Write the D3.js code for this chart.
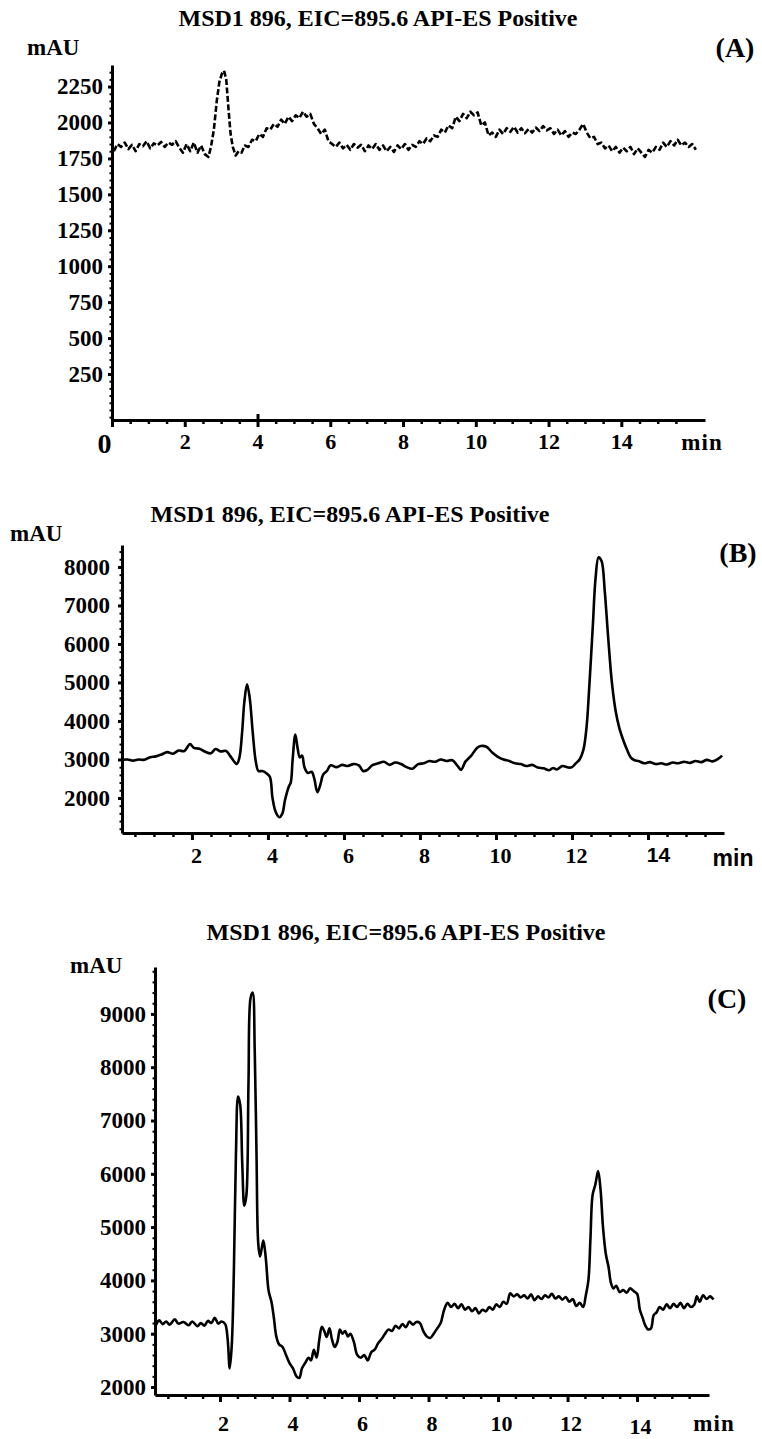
<!DOCTYPE html>
<html>
<head>
<meta charset="utf-8">
<script src="https://cdn.jsdelivr.net/npm/d3@7"></script>
<style>
body { margin: 0; background: #fff; }
svg { display: block; }
text { font-family: "Liberation Serif", "Times New Roman", serif; font-weight: bold; fill: #000; }
.sans { font-family: "Liberation Sans", Arial, sans-serif; }
</style>
</head>
<body>
<script>
const titleText = "MSD1 896, EIC=895.6 API-ES Positive";

const yTicksA = [250, 500, 750, 1000, 1250, 1500, 1750, 2000, 2250];
const yTicksB = [2000, 3000, 4000, 5000, 6000, 7000, 8000];
const yTicksC = [2000, 3000, 4000, 5000, 6000, 7000, 8000, 9000];
const xTicksA = [0, 2, 4, 6, 8, 10, 12, 14];
const xTicksBC = [2, 4, 6, 8, 10, 12, 14];

// [time (min), signal (mAU)]
const traceA = [
  [0.05,1800],[0.15,1850],[0.25,1830],[0.35,1860],[0.45,1815],[0.55,1845],[0.65,1800],[0.75,1850],
  [0.85,1835],[0.95,1870],[1.05,1820],[1.15,1855],[1.25,1840],[1.35,1865],[1.45,1830],[1.55,1860],
  [1.65,1845],[1.75,1870],[1.85,1825],[1.95,1790],[2.05,1850],[2.15,1800],[2.25,1860],[2.35,1790],
  [2.45,1840],[2.55,1780],[2.65,1760],[2.72,1830],[2.8,1950],[2.88,2150],[2.95,2280],[3.02,2340],
  [3.08,2360],[3.14,2300],[3.2,2100],[3.26,1920],[3.32,1830],[3.4,1770],[3.48,1800],[3.56,1790],
  [3.65,1840],[3.75,1830],[3.85,1880],[3.95,1870],[4.05,1920],[4.15,1900],[4.25,1960],[4.35,1950],
  [4.45,1990],[4.55,1970],[4.65,2020],[4.75,1990],[4.85,2040],[4.95,2010],[5.05,2050],[5.15,2030],
  [5.25,2075],[5.35,2040],[5.45,2060],[5.55,1990],[5.65,1960],[5.75,1920],[5.85,1950],[5.95,1870],
  [6.05,1850],[6.15,1830],[6.25,1860],[6.35,1820],[6.45,1845],[6.55,1810],[6.65,1850],[6.75,1825],
  [6.85,1845],[6.95,1800],[7.05,1840],[7.15,1815],[7.25,1850],[7.35,1810],[7.45,1840],[7.55,1800],
  [7.65,1830],[7.75,1795],[7.85,1840],[7.95,1815],[8.05,1850],[8.15,1810],[8.25,1845],[8.35,1830],
  [8.45,1870],[8.55,1850],[8.65,1890],[8.75,1870],[8.85,1910],[8.95,1900],[9.05,1950],[9.15,1930],
  [9.25,1980],[9.35,1960],[9.45,2040],[9.55,2010],[9.65,2060],[9.75,2030],[9.85,2075],[9.95,2050],
  [10.05,2070],[10.15,1980],[10.25,2000],[10.35,1910],[10.45,1930],[10.55,1900],[10.65,1950],[10.75,1920],
  [10.85,1960],[10.95,1935],[11.05,1970],[11.15,1930],[11.25,1960],[11.35,1925],[11.45,1955],[11.55,1930],
  [11.65,1965],[11.75,1940],[11.85,1975],[11.95,1945],[12.05,1960],[12.15,1920],[12.25,1950],[12.35,1910],
  [12.45,1940],[12.55,1900],[12.65,1930],[12.75,1920],[12.85,1950],[12.95,1990],[13.05,1930],[13.15,1890],
  [13.25,1900],[13.35,1850],[13.45,1860],[13.55,1820],[13.65,1840],[13.75,1800],[13.85,1830],[13.95,1790],
  [14.05,1825],[14.15,1800],[14.25,1830],[14.35,1780],[14.45,1820],[14.55,1790],[14.65,1760],[14.75,1810],
  [14.85,1790],[14.95,1830],[15.05,1810],[15.15,1860],[15.25,1830],[15.35,1870],[15.45,1840],[15.55,1880],
  [15.65,1840],[15.75,1860],[15.85,1830],[15.95,1850],[16.05,1810]
];

const traceB = [
  [0.15,2990],[0.3,3000],[0.45,2970],[0.6,3000],[0.75,2990],[0.9,3060],[1.05,3080],[1.2,3130],
  [1.35,3190],[1.5,3150],[1.65,3230],[1.8,3220],[1.95,3400],[2.05,3300],[2.2,3280],[2.35,3200],
  [2.5,3160],[2.62,3270],[2.75,3210],[2.9,3220],[3.0,3100],[3.1,2960],[3.18,2880],[3.25,3050],
  [3.32,3700],[3.38,4500],[3.45,4950],[3.52,4600],[3.6,3700],[3.68,2950],[3.75,2700],[3.85,2700],
  [3.95,2650],[4.05,2550],[4.12,2000],[4.2,1650],[4.3,1500],[4.38,1600],[4.45,1950],[4.55,2300],
  [4.6,2400],[4.65,3000],[4.72,3650],[4.78,3300],[4.84,3050],[4.9,3100],[4.96,2800],[5.05,2650],
  [5.15,2680],[5.22,2500],[5.3,2150],[5.38,2350],[5.45,2600],[5.55,2700],[5.65,2850],[5.8,2800],
  [5.95,2860],[6.1,2830],[6.25,2880],[6.4,2840],[6.5,2700],[6.6,2720],[6.75,2850],[6.9,2900],
  [7.05,2940],[7.2,2860],[7.35,2920],[7.5,2880],[7.65,2800],[7.8,2760],[7.95,2880],[8.1,2900],
  [8.25,2960],[8.4,2940],[8.55,3000],[8.7,2960],[8.85,2980],[9.0,2820],[9.08,2730],[9.2,2950],
  [9.35,3100],[9.5,3300],[9.6,3350],[9.75,3330],[9.9,3180],[10.05,3070],[10.2,3000],[10.35,2960],
  [10.5,2900],[10.65,2880],[10.8,2830],[10.95,2860],[11.1,2790],[11.25,2770],[11.4,2720],[11.5,2780],
  [11.6,2740],[11.75,2830],[11.9,2790],[12.0,2800],[12.1,2900],[12.2,3000],[12.3,3250],[12.38,3800],
  [12.45,4800],[12.55,6500],[12.62,7700],[12.7,8250],[12.78,8150],[12.86,7400],[12.95,6200],[13.05,5000],
  [13.15,4250],[13.25,3800],[13.35,3500],[13.45,3250],[13.55,3050],[13.65,2980],[13.75,2960],[13.9,2900],
  [14.05,2930],[14.2,2880],[14.35,2900],[14.5,2870],[14.65,2920],[14.8,2900],[14.95,2940],[15.1,2910],
  [15.25,2960],[15.4,2930],[15.55,2990],[15.7,2950],[15.85,3020],[15.95,3100]
];

const traceC = [
  [0.15,3150],[0.25,3250],[0.35,3180],[0.45,3230],[0.55,3170],[0.7,3270],[0.8,3190],[0.95,3220],
  [1.1,3160],[1.2,3230],[1.35,3140],[1.45,3200],[1.55,3150],[1.65,3240],[1.75,3200],[1.85,3300],
  [1.95,3190],[2.05,3230],[2.15,3180],[2.22,2900],[2.28,2350],[2.34,2800],[2.4,4200],[2.46,6400],
  [2.52,7450],[2.58,7300],[2.64,6200],[2.7,5400],[2.76,5600],[2.82,7700],[2.88,9300],[2.94,9400],
  [3.0,8300],[3.05,6400],[3.1,4700],[3.15,4450],[3.2,4600],[3.25,4750],[3.32,4400],[3.4,3800],
  [3.48,3600],[3.55,3300],[3.62,2950],[3.7,2800],[3.8,2750],[3.9,2600],[4.0,2450],[4.1,2350],
  [4.2,2200],[4.28,2170],[4.36,2350],[4.45,2450],[4.55,2550],[4.62,2500],[4.7,2700],[4.78,2550],
  [4.86,2900],[4.93,3130],[5.0,3050],[5.07,2940],[5.15,3100],[5.22,2900],[5.3,2750],[5.38,2850],
  [5.45,3080],[5.52,3000],[5.6,3050],[5.68,2950],[5.75,3000],[5.85,2850],[5.95,2600],[6.05,2550],
  [6.15,2600],[6.25,2500],[6.35,2650],[6.45,2700],[6.55,2820],[6.65,2900],[6.75,3000],[6.85,3080],
  [6.95,3050],[7.05,3150],[7.15,3100],[7.25,3180],[7.35,3120],[7.45,3230],[7.55,3170],[7.65,3220],
  [7.75,3200],[7.85,3050],[7.95,2950],[8.05,2920],[8.15,3000],[8.25,3100],[8.35,3200],[8.45,3450],
  [8.55,3580],[8.65,3500],[8.75,3560],[8.85,3480],[8.95,3550],[9.05,3450],[9.15,3500],[9.25,3420],
  [9.35,3480],[9.45,3380],[9.55,3450],[9.65,3420],[9.75,3500],[9.85,3450],[9.95,3550],[10.05,3500],
  [10.15,3600],[10.25,3560],[10.35,3760],[10.45,3700],[10.55,3740],[10.65,3680],[10.75,3720],[10.85,3660],
  [10.95,3740],[11.05,3630],[11.15,3700],[11.25,3650],[11.35,3720],[11.45,3680],[11.55,3750],[11.65,3660],
  [11.75,3700],[11.85,3640],[11.95,3690],[12.05,3600],[12.15,3650],[12.25,3520],[12.35,3580],[12.45,3500],
  [12.52,3700],[12.6,4000],[12.66,4800],[12.72,5600],[12.8,5800],[12.88,6050],[12.95,5700],[13.02,5000],
  [13.1,4500],[13.18,4250],[13.25,3950],[13.32,3850],[13.4,3900],[13.5,3780],[13.6,3820],[13.7,3770],
  [13.8,3850],[13.9,3800],[14.0,3750],[14.08,3450],[14.16,3300],[14.24,3150],[14.32,3080],[14.4,3100],
  [14.48,3350],[14.56,3400],[14.65,3500],[14.75,3450],[14.85,3550],[14.95,3480],[15.05,3560],[15.15,3500],
  [15.25,3580],[15.35,3480],[15.45,3560],[15.55,3500],[15.65,3550],[15.72,3700],[15.8,3600],[15.9,3720],
  [16.0,3650],[16.1,3700],[16.2,3640]
];

const panels = [
  { data: traceA, tag: "(A)", dashed: true, curve: d3.curveLinear,
    xDomain: [0, 16.3], xRange: [112, 705], yDomain: [-70, 2400], yRange: [420, 65],
    yTicks: yTicksA, yMinor: 50, yPad: 5, xTicks: xTicksA, xPad: 6, xDx: 0,
    title: [378, 26], mau: [27, 55], tagPos: [735, 57], min: [702, 450] },
  { data: traceB, tag: "(B)", dashed: false, curve: d3.curveCatmullRom.alpha(0.5),
    xDomain: [0.16, 16.0], xRange: [122, 724], yDomain: [1090, 8570], yRange: [833, 545],
    yTicks: yTicksB, yMinor: 200, yPad: 8, xTicks: xTicksBC, xPad: 7, xDx: 4,
    title: [350, 522], mau: [10, 541], tagPos: [738, 562], min: [733, 866], sans14: true },
  { data: traceC, tag: "(C)", dashed: false, curve: d3.curveCatmullRom.alpha(0.5),
    xDomain: [0.13, 16.07], xRange: [155, 709], yDomain: [1850, 9880], yRange: [1395, 967],
    yTicks: yTicksC, yMinor: 200, yPad: 5, xTicks: xTicksBC, xPad: 13, xDx: 3,
    title: [406, 940], mau: [70, 973], tagPos: [727, 1008], min: [714, 1431], low14: true }
];

const svg = d3.select("body").append("svg")
  .attr("width", 762)
  .attr("height", 1439);

function drawPanel(p) {
  let x = d3.scaleLinear().domain(p.xDomain).range(p.xRange);
  let y = d3.scaleLinear().domain(p.yDomain).range(p.yRange);
  let g = svg.append("g");

  g.append("text")
    .attr("x", p.title[0]).attr("y", p.title[1])
    .attr("text-anchor", "middle")
    .style("font-size", "24px")
    .text(titleText);
  g.append("text")
    .attr("x", p.mau[0]).attr("y", p.mau[1])
    .style("font-size", "23px")
    .text("mAU");
  g.append("text")
    .attr("x", p.tagPos[0]).attr("y", p.tagPos[1])
    .attr("text-anchor", "middle")
    .style("font-size", "28px")
    .text(p.tag);
  g.append("text")
    .attr("class", p.sans14 ? "sans" : null)
    .attr("x", p.min[0]).attr("y", p.min[1])
    .attr("text-anchor", "middle")
    .style("font-size", "23px")
    .style("letter-spacing", p.sans14 ? "0px" : "1px")
    .text("min");

  // y axis: minor dots, then major ticks + labels
  let minorY = d3.range(Math.ceil(p.yDomain[0] / p.yMinor) * p.yMinor, p.yDomain[1], p.yMinor);
  g.append("g")
    .attr("transform", "translate(" + p.xRange[0] + ",0)")
    .call(d3.axisLeft(y).tickValues(minorY).tickSize(2.5).tickFormat(""))
    .call(a => a.select(".domain").remove())
    .selectAll("line").attr("stroke", "#000").attr("stroke-width", 2);

  let yAxis = g.append("g")
    .attr("transform", "translate(" + p.xRange[0] + ",0)")
    .call(d3.axisLeft(y).tickValues(p.yTicks).tickSize(4).tickSizeOuter(0)
      .tickPadding(p.yPad).tickFormat(d3.format("d")));
  yAxis.attr("font-family", null).attr("font-size", null);
  yAxis.select(".domain").attr("stroke", "#000").attr("stroke-width", 3);
  yAxis.selectAll("line").attr("stroke", "#000").attr("stroke-width", 3);
  yAxis.selectAll("text").style("font-size", "23px");

  // x axis: minor ticks, then major ticks + labels
  let minorX = d3.range(Math.ceil(p.xDomain[0] * 2) / 2, p.xDomain[1], 0.5)
    .filter(t => t % 2 !== 0);
  g.append("g")
    .attr("transform", "translate(0," + p.yRange[0] + ")")
    .call(d3.axisBottom(x).tickValues(minorX).tickSize(4).tickFormat(""))
    .call(a => a.select(".domain").remove())
    .selectAll("line").attr("stroke", "#000").attr("stroke-width", 2.5);

  let xAxis = g.append("g")
    .attr("transform", "translate(0," + p.yRange[0] + ")")
    .call(d3.axisBottom(x).tickValues(p.xTicks).tickSize(7).tickSizeOuter(0)
      .tickPadding(p.xPad).tickFormat(d3.format("d")));
  xAxis.attr("font-family", null).attr("font-size", null);
  xAxis.select(".domain").attr("stroke", "#000").attr("stroke-width", 3);
  xAxis.selectAll("line").attr("stroke", "#000").attr("stroke-width", 3);
  xAxis.selectAll("text").style("font-size", "22px").attr("dx", p.xDx);

  xAxis.selectAll(".tick").filter(d => d === 0).select("text")
    .style("font-size", "28px").attr("dx", -8);
  if (p.dashed) {
    xAxis.selectAll(".tick").filter(d => d === 4).select("line").attr("y1", -6);
  }
  if (p.sans14) {
    xAxis.selectAll(".tick").filter(d => d === 14).select("text")
      .attr("class", "sans").style("font-size", "21px").attr("dx", 10);
  }
  if (p.low14) {
    xAxis.selectAll(".tick").filter(d => d === 14).select("text").attr("dy", "0.85em");
  }

  let line = d3.line()
    .x(d => x(d[0]))
    .y(d => y(d[1]))
    .curve(p.curve);
  g.append("path")
    .datum(p.data)
    .attr("fill", "none")
    .attr("stroke", "#000")
    .attr("stroke-width", 2.6)
    .attr("stroke-linejoin", "round")
    .attr("stroke-dasharray", p.dashed ? "6,2.5" : null)
    .attr("d", line);
}

panels.forEach(drawPanel);
</script>
</body>
</html>
